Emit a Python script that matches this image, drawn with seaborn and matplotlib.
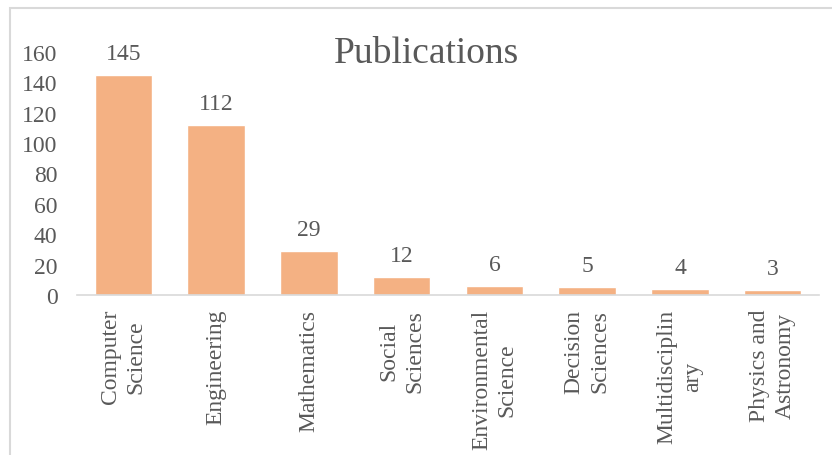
import matplotlib
matplotlib.use("Agg")
import matplotlib.pyplot as plt
import seaborn as sns
import pandas as pd
from matplotlib.patches import Rectangle

# -----------------------------
# Data
# -----------------------------
categories = [
    "Computer\nScience", "Engineering", "Mathematics", "Social\nSciences",
    "Environmental\nScience", "Decision\nSciences", "Multidisciplin\nary",
    "Physics and\nAstronomy",
]
publications = [145, 112, 29, 12, 6, 5, 4, 3]
y_ticks = [0, 20, 40, 60, 80, 100, 120, 140, 160]

BAR_COLOR = "#F4B183"
TEXT_COLOR = "#595959"

df = pd.DataFrame({"field": categories, "count": publications})

sns.set_theme(style="white")
plt.rcParams["font.family"] = ["Liberation Serif", "DejaVu Serif"]

fig = plt.figure(figsize=(8.32, 4.56), dpi=100)
ax = fig.add_axes([0.0925, 0.351, 0.892, 0.533])

sns.barplot(data=df, x="field", y="count", color=BAR_COLOR, width=0.62,
            saturation=1, ax=ax)

ax.bar_label(ax.containers[0], padding=8, fontsize=17, color=TEXT_COLOR)

ax.set_ylim(0, 160)
ax.set_yticks(y_ticks)
ax.set_xlim(-0.5, len(categories) - 0.5)
ax.set_xlabel("")
ax.set_ylabel("")
ax.tick_params(axis="y", labelsize=17, labelcolor=TEXT_COLOR, length=0, pad=14)
ax.tick_params(axis="x", labelsize=17, labelcolor=TEXT_COLOR, length=0, pad=10)
for lbl in ax.get_xticklabels():
    lbl.set_rotation(90)
    lbl.set_multialignment("center")
    lbl.set_linespacing(1.3)

for side in ["top", "right", "left"]:
    ax.spines[side].set_visible(False)
ax.spines["bottom"].set_color("#D9D9D9")
ax.spines["bottom"].set_linewidth(1.2)

fig.text(0.513, 0.883, "Publications", ha="center", va="center",
         fontsize=27, color=TEXT_COLOR)

# chart frame (only left and top edges are within the picture)
fig.patches.append(Rectangle((10 / 832, -0.05), 1.0, 1 - 8.5 / 456 + 0.05,
                             transform=fig.transFigure, fill=False,
                             edgecolor="#D9D9D9", linewidth=1.5))

fig.savefig("out.png", dpi=100)
